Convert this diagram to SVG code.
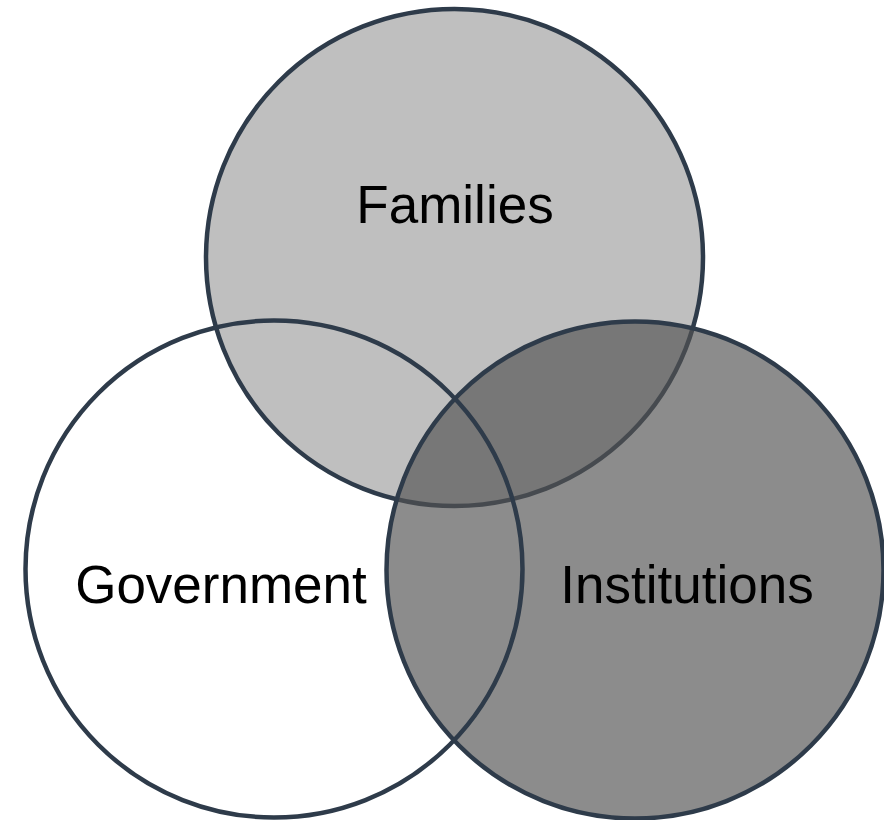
<svg xmlns="http://www.w3.org/2000/svg" width="884" height="820" viewBox="0 0 884 820">
<style>
.c{stroke:#2e3b4a;stroke-width:4.5}
.t{font-family:"Liberation Sans",Arial,sans-serif;font-size:53px;fill:#000;text-anchor:middle}
</style>
<rect width="884" height="820" fill="#ffffff"/>
<g id="families"><circle class="c" cx="454.5" cy="257.5" r="248.5" fill="#bfbfbf"/></g>
<g id="institutions"><circle class="c" cx="635" cy="570" r="248.5" fill="#535353" fill-opacity="0.667"/></g>
<g id="government"><circle class="c" cx="274" cy="569" r="248.5" fill="none"/></g>
<g id="labels">
<text class="t" x="455" y="223">Families</text>
<text class="t" x="221" y="603">Government</text>
<text class="t" x="687" y="603">Institutions</text>
</g>
<g id="connectors"/>
</svg>
